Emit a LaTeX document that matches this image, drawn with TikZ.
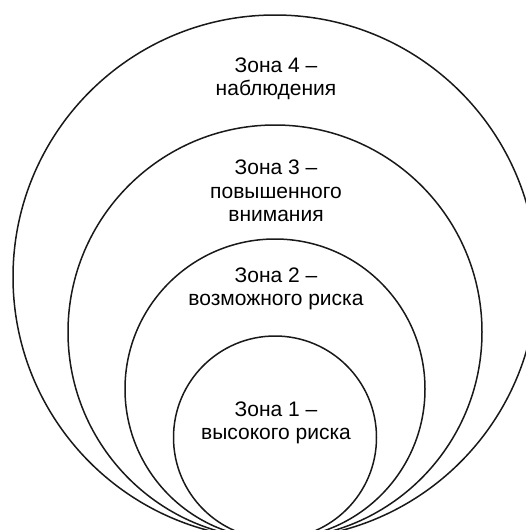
\documentclass[tikz,border=0pt]{standalone}
\usepackage{fontspec}
\setmainfont{Liberation Sans}
\usepackage{tikz}
\usetikzlibrary{calc}

\tikzset{
    zone/.style={line width=1.5pt, color=black!90},
    zonelabel/.style={align=center, font=\fontsize{21}{23.5}\selectfont, inner sep=0pt}
}

\begin{document}
\begin{tikzpicture}[x=1pt,y=1pt]
        \useasboundingbox (0,0) rectangle (526,-530);
        \clip (0,0) rectangle (526,-530);
        \coordinate (touch) at (275,-539);
        \foreach \r in {262,207,150,101.5}
        \draw[zone] (touch) ++(0,\r) circle (\r);
        \node[zonelabel] (zone4) at (276,-79) {Зона 4 --\\наблюдения};
        \node[zonelabel] (zone3) at (276,-191) {Зона 3 --\\повышенного\\внимания};
        \node[zonelabel] (zone2) at (276,-289) {Зона 2 --\\возможного риска};
        \node[zonelabel] (zone1) at (276,-423) {Зона 1 --\\высокого риска};
    \end{tikzpicture}
\end{document}
